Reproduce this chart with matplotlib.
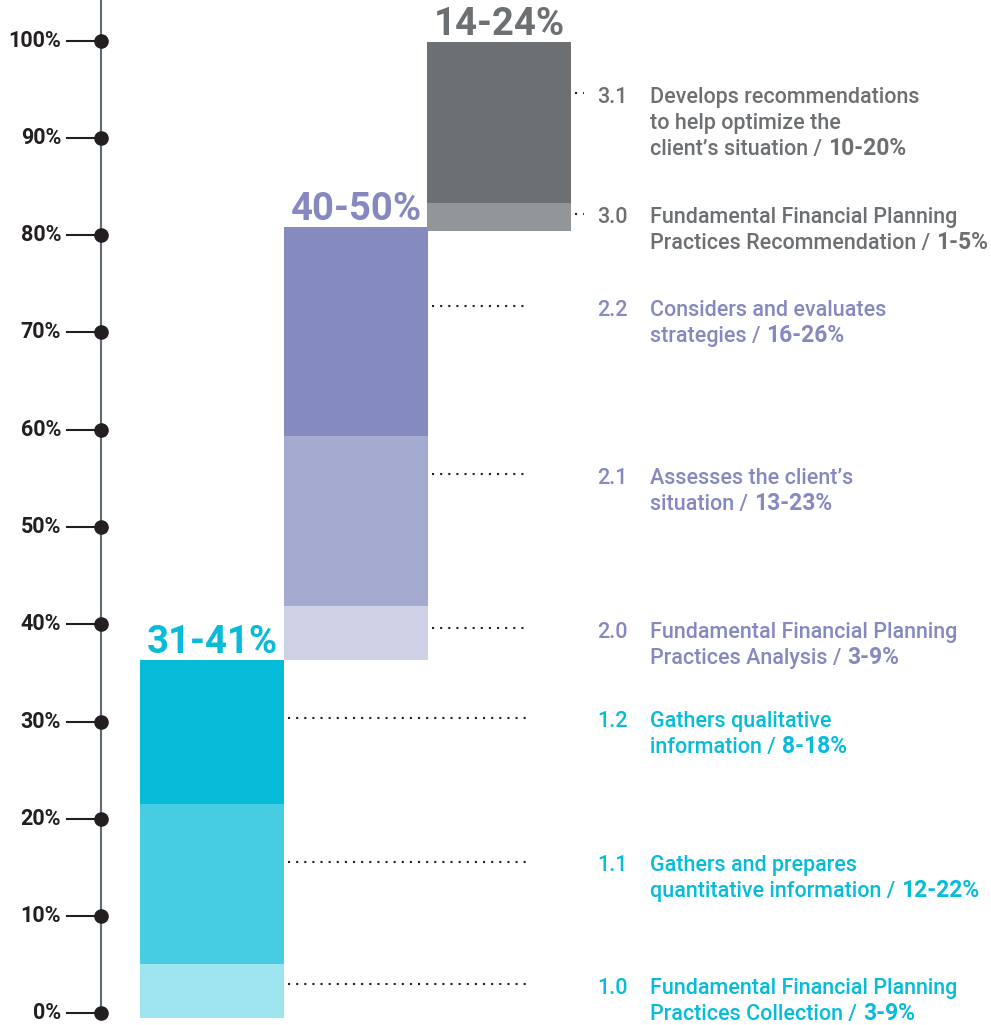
import matplotlib
matplotlib.use('Agg')
import matplotlib.pyplot as plt

# --- data (percent scale) ---
group_labels = ['31-41%', '40-50%', '14-24%']
group_base = [-0.45, 36.33, 80.46]
seg_heights = [[5.5, 16.5, 14.8], [5.5, 17.5, 21.5], [2.9, 16.5]]
seg_colors = [['#9fe5f0', '#46cde3', '#06bcd9'],
              ['#cfd1e6', '#a5aad0', '#858bbf'],
              ['#939699', '#6d7073']]
group_text_color = ['#06bcd9', '#8589c0', '#6d7073']

ticks = [0, 10, 20, 30, 40, 50, 60, 70, 80, 90, 100]

codes = ['1.0', '1.1', '1.2', '2.0', '2.1', '2.2', '3.0', '3.1']
code_group = [0, 0, 0, 1, 1, 1, 2, 2]
leader_y = [3.0, 15.56, 30.4, 39.6, 55.4, 72.7, 82.2, 94.6]
desc = ['Fundamental Financial Planning\nPractices Collection /',
        'Gathers and prepares\nquantitative information /',
        'Gathers qualitative\ninformation /',
        'Fundamental Financial Planning\nPractices Analysis /',
        'Assesses the client\u2019s\nsituation /',
        'Considers and evaluates\nstrategies /',
        'Fundamental Financial Planning\nPractices Recommendation /',
        'Develops recommendations\nto help optimize the\nclient\u2019s situation /']
ranges = ['3-9%', '12-22%', '8-18%', '3-9%', '13-23%', '16-26%', '1-5%', '10-20%']

W, H = 991, 1025
fig = plt.figure(figsize=(W / 100, H / 100), dpi=100)
ax = fig.add_axes([0, 0, 1, 1])
ppu = 9.726          # pixels per percent
y0 = H - 1013.3      # pixel height of 0%
ax.set_xlim(0, W)
ax.set_ylim(-y0 / ppu, (H - y0) / ppu)
ax.axis('off')

FONT = ['Roboto', 'DejaVu Sans']

# axis line + ticks
ax.plot([101, 101], [0, 200], color='#5d6b78', lw=1.5, zorder=1)
for t in ticks:
    ax.plot([67, 101], [t, t], color='#231f20', lw=1.5, zorder=2)
    ax.plot(101, t, 'o', color='#231f20', ms=9.5, zorder=3)
    ax.text(61, t, f'{t}%', ha='right', va='center', fontsize=15.5,
            fontweight='bold', color='#231f20', family=FONT)

# stacked bars
bar_x = [212, 356, 499]
bar_right = [284, 428, 571]
for g in range(3):
    b = group_base[g]
    for h, c in zip(seg_heights[g], seg_colors[g]):
        ax.bar(bar_x[g], h, bottom=b, width=144, color=c, zorder=2)
        b += h
    ax.text(bar_x[g], b + 7 / ppu, group_labels[g], ha='center', va='baseline',
            fontsize=27.5, fontweight='bold', color=group_text_color[g], family=FONT)

# leaders + labels
fig.canvas.draw()
r = fig.canvas.get_renderer()
line_h = 26 / ppu
for i in range(len(codes)):
    g = code_group[i]
    y = leader_y[i]
    x_end = 584 if g == 2 else 527
    ax.plot([bar_right[g] + 4, x_end], [y, y], color='#231f20', lw=1.5,
            linestyle=(0, (1, 2.9)), zorder=1)
    col = group_text_color[g]
    base = y - 9.5 / ppu
    ax.text(597, base, codes[i], ha='left', va='baseline', fontsize=15.5,
            fontweight='medium', color=col, family=FONT)
    lines = desc[i].split('\n')
    for k, ln in enumerate(lines):
        t = ax.text(650, base - k * line_h, ln, ha='left', va='baseline',
                    fontsize=15.5, fontweight='medium', color=col, family=FONT)
    bb = t.get_window_extent(r)
    ax.text(bb.x1 + 6, base - (len(lines) - 1) * line_h, ranges[i], ha='left',
            va='baseline', fontsize=16.5, fontweight='bold', color=col, family=FONT)

fig.savefig('out.png', dpi=100)
